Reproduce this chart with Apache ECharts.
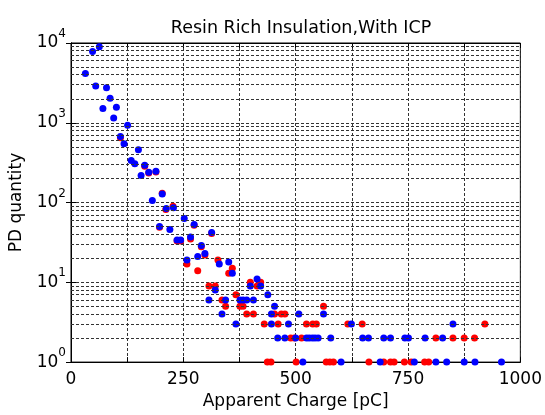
<!DOCTYPE html>
<html>
<head>
<meta charset="utf-8">
<script src="https://cdn.jsdelivr.net/npm/echarts@6/dist/echarts.min.js"></script>
<style>html,body{margin:0;padding:0;background:#fff;}#c{width:545px;height:415px;}</style>
</head>
<body>
<div id="c"></div>
<script>
var titleText = 'Resin Rich Insulation,With ICP';
var xName = 'Apparent Charge [pC]';
var yName = 'PD quantity';
var xTicks = [0, 250, 500, 750, 1000];
var yTickExps = ['0', '1', '2', '3', '4'];

var blueX = [32,48,55,63,71,79,87,95,101,110,118,126,134,142,150,156,164,173,181,189,197,203,212,220,228,236,244,252,258,266,274,282,290,298,307,313,321,330,336,344,351,359,367,376,383,391,399,406,414,422,438,446,446,453,460,476,484,500,507,516,524,530,537,543,550,562,578,601,624,649,662,688,696,711,743,751,764,788,812,827,836,850,875,899,958];
var blueY = [4150,7800,2900,9000,1510,2750,2030,1150,1570,675,545,930,337,307,460,219,293,240,106,246,50,128,84,46,86,34,34,63,19,37,53,21,29,23,6,42,8,17,4,6,18,13,3,6,6,6,9,6,11,9,7,4,3,5,2,2,3,2,4,1,2,2,2,2,2,4,2,1,3,2,2,1,2,2,2,2,1,2,1,2,1,3,1,1,1];

var redX = [110,164,173,189,197,203,211,227,236,244,258,266,274,282,290,298,307,313,321,327,336,344,351,359,367,376,383,391,399,406,414,422,430,437,445,453,461,468,476,489,497,501,513,524,538,546,562,568,576,584,616,648,663,696,711,719,742,757,787,796,812,850,875,898,921];
var redY = [650,285,235,242,49,131,82,90,33,33,17,35,52,14,28,22,9,41,9,19,6,5,13,15,7,5,5,4,10,4,9,10,3,1,1,4,3,4,4,2,2,1,2,3,3,3,5,1,1,1,3,3,1,1,1,1,1,1,1,1,2,2,2,2,3];

var minorMultipliers = [2,3,4,5,6,7,8,9];
var decades = [1,10,100,1000];

function pairs(xs, ys){ var o=[]; for (var i=0;i<xs.length;i++) o.push([xs[i], ys[i]]); return o; }
var minorLines = [];
decades.forEach(function(d){ minorMultipliers.forEach(function(m){ minorLines.push({yAxis: d*m}); }); });

var FONT = '"DejaVu Sans", Arial, sans-serif';
var FS = 17;
var gridDash = {type:[3,2], color:'#333', width:1};

var chart = echarts.init(document.getElementById('c'), null, {renderer:'canvas'});
var yLabelFmt = function(v){
  var e = Math.round(Math.log10(v));
  return '{b|10}{s|' + yTickExps[e] + '}';
};
chart.setOption({
  animation:false,
  backgroundColor:'#fff',
  title:{text:titleText, left:296, textAlign:'center', top:14,
    textStyle:{fontFamily:FONT, fontSize:17.5, fontWeight:'normal', color:'#000'}},
  grid:{left:71, right:24, top:43, bottom:44, show:true, borderColor:'#000', borderWidth:1, backgroundColor:'#fff'},
  xAxis:[{
    type:'value', min:0, max:1000, interval:125, position:'bottom',
    name:xName, nameLocation:'middle', nameGap:29,
    nameTextStyle:{fontFamily:FONT, fontSize:FS, color:'#000'},
    axisLine:{show:true, lineStyle:{color:'#000'}},
    axisTick:{show:true, inside:true, length:5, lineStyle:{color:'#000'}},
    axisLabel:{fontFamily:FONT, fontSize:FS, color:'#000', margin:9,
      formatter:function(v){ return xTicks.indexOf(v)>=0 ? String(v) : ''; }},
    splitLine:{show:true, lineStyle:gridDash}
  },{
    type:'value', min:0, max:1000, interval:125, position:'top',
    axisLine:{show:true, lineStyle:{color:'#000'}},
    axisTick:{show:true, inside:true, length:5, lineStyle:{color:'#000'}},
    axisLabel:{show:false}, splitLine:{show:false}
  }],
  yAxis:[{
    type:'log', logBase:10, min:1, max:10000, position:'left',
    name:yName, nameLocation:'middle', nameGap:46,
    nameTextStyle:{fontFamily:FONT, fontSize:FS, color:'#000'},
    axisLine:{show:true, lineStyle:{color:'#000'}},
    axisTick:{show:true, inside:true, length:5, lineStyle:{color:'#000'}},
    axisLabel:{color:'#000', margin:5, formatter:yLabelFmt,
      rich:{b:{fontFamily:FONT, fontSize:FS, lineHeight:30, color:'#000'},
            s:{fontFamily:FONT, fontSize:12, lineHeight:12, verticalAlign:'top', color:'#000'}}},
    splitLine:{show:true, lineStyle:gridDash}
  },{
    type:'log', logBase:10, min:1, max:10000, position:'right',
    axisLine:{show:true, lineStyle:{color:'#000'}},
    axisTick:{show:true, inside:true, length:5, lineStyle:{color:'#000'}},
    axisLabel:{show:false}, splitLine:{show:false}
  }],
  series:[{
    type:'scatter', name:'red', xAxisIndex:0, yAxisIndex:0,
    data:pairs(redX, redY), symbol:'circle', symbolSize:7,
    itemStyle:{color:'#ff0000', opacity:1},
    emphasis:{disabled:true},
    markLine:{silent:true, symbol:['none','none'], label:{show:false},
      lineStyle:gridDash, data:minorLines, animation:false}
  },{
    type:'scatter', name:'blue', xAxisIndex:0, yAxisIndex:0,
    data:pairs(blueX, blueY), symbol:'circle', symbolSize:7,
    itemStyle:{color:'#0000ff', opacity:1},
    emphasis:{disabled:true}
  }]
});
</script>
</body>
</html>
